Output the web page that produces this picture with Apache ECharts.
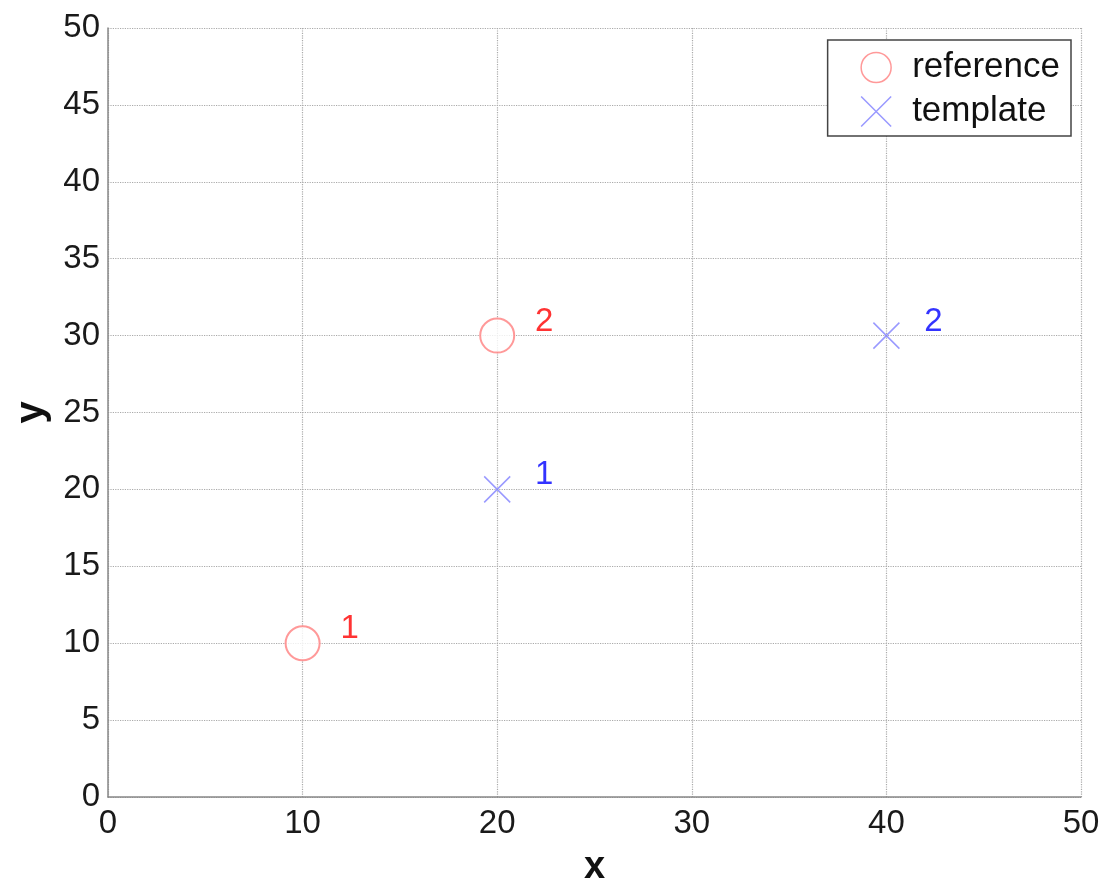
<!DOCTYPE html>
<html>
<head>
<meta charset="utf-8">
<script src="https://cdn.jsdelivr.net/npm/echarts@6/dist/echarts.min.js"></script>
<style>html,body{margin:0;padding:0;background:#fff}#c{width:1102px;height:881px}</style>
</head>
<body>
<div id="c"></div>
<script>
var refX = [10, 20];
var refY = [10, 30];
var tmplX = [20, 40];
var tmplY = [20, 30];
var pointLabels = ['1', '2'];

var FONT = '"Liberation Sans", Arial, sans-serif';
var crossPath = 'path://M0,0L10,10M10,0L0,10';
var circlePath = 'path://M0,10A10,10,0,1,1,20,10A10,10,0,1,1,0,10Z';

function pts(xs, ys) {
  return xs.map(function (x, i) { return { value: [x, ys[i]], name: pointLabels[i] }; });
}

var chart = echarts.init(document.getElementById('c'), null, { renderer: 'canvas' });
chart.setOption({
  animation: false,
  backgroundColor: '#fff',
  grid: { left: 108, right: 21, top: 28, bottom: 84, containLabel: false, outerBoundsMode: 'none' },
  legend: {
    orient: 'vertical',
    right: 31, top: 40,
    padding: [10, 11, 7, 31],
    itemGap: 9,
    itemWidth: 30, itemHeight: 30,
    borderColor: '#444', borderWidth: 1.5,
    backgroundColor: '#fff',
    textStyle: { fontFamily: FONT, fontSize: 35, lineHeight: 34, color: '#111', padding: [0, 0, 0, 16] },
    data: [
      { name: 'reference', icon: circlePath, itemStyle: { color: 'none', borderColor: '#ff8080', borderWidth: 1.5 } },
      { name: 'template', icon: crossPath, itemStyle: { color: 'none', borderColor: '#8080ff', borderWidth: 1.5 } }
    ]
  },
  xAxis: {
    type: 'value', min: 0, max: 50, interval: 10,
    name: 'x', nameLocation: 'middle', nameGap: 52,
    nameTextStyle: { fontFamily: FONT, fontSize: 38, fontWeight: 'bold', color: '#111' },
    axisLine: { show: true, lineStyle: { color: '#888', width: 1.5 } },
    axisTick: { show: false },
    axisLabel: { fontFamily: FONT, fontSize: 33, color: '#1a1a1a', margin: 10 },
    splitLine: { show: true, lineStyle: { type: 'dotted', color: '#aaa', width: 1.2 } }
  },
  yAxis: {
    type: 'value', min: 0, max: 50, interval: 5,
    name: 'y', nameLocation: 'middle', nameGap: 56,
    nameTextStyle: { fontFamily: FONT, fontSize: 40, fontWeight: 'bold', color: '#111' },
    axisLine: { show: true, lineStyle: { color: '#888', width: 1.5 } },
    axisTick: { show: false },
    axisLabel: { fontFamily: FONT, fontSize: 33, color: '#1a1a1a', margin: 8 },
    splitLine: { show: true, lineStyle: { type: 'dotted', color: '#aaa', width: 1.2 } }
  },
  series: [
    {
      name: 'reference', type: 'scatter',
      symbol: 'emptyCircle', symbolSize: 34,
      itemStyle: { color: '#ff8080', borderColor: '#ff8080', borderWidth: 1.5 },
      label: { show: true, position: 'inside', offset: [47, -14], formatter: '{b}', fontFamily: FONT, fontSize: 33, color: '#ff0000' },
      data: pts(refX, refY)
    },
    {
      name: 'template', type: 'scatter',
      symbol: crossPath, symbolSize: 26,
      itemStyle: { color: 'none', borderColor: '#8080ff', borderWidth: 1.5 },
      label: { show: true, position: 'inside', offset: [47, -14], formatter: '{b}', fontFamily: FONT, fontSize: 33, color: '#0000ff' },
      data: pts(tmplX, tmplY)
    }
  ]
});
</script>
</body>
</html>
